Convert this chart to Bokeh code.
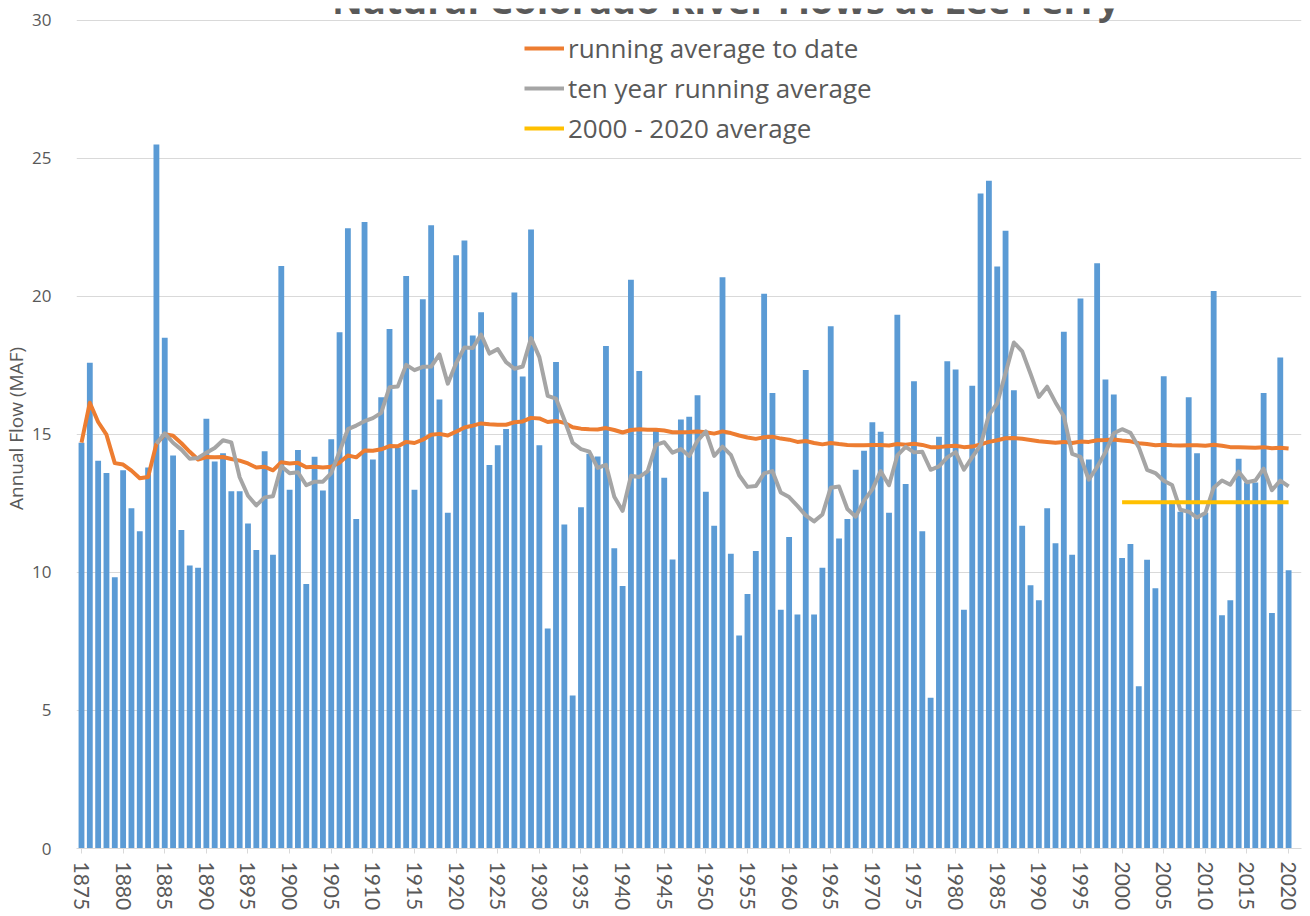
from bokeh.plotting import figure
from bokeh.models import Range1d, FixedTicker, Legend, LegendItem, Label
from bokeh.embed import file_html
from bokeh.resources import INLINE

title = "Natural Colorado River Flows at Lee Ferry"
y_label = "Annual Flow (MAF)"
series_names = ["running average to date", "ten year running average", "2000 - 2020 average"]

years = list(range(1875, 2021))
flow = [14.7, 17.6, 14.05, 13.6, 9.83, 13.7, 12.33, 11.49, 13.8, 25.5,
        18.5, 14.24, 11.54, 10.25, 10.17, 15.57, 14.02, 14.32, 12.94, 12.94,
        11.77, 10.81, 14.39, 10.64, 21.1, 13.0, 14.44, 9.58, 14.19, 12.97,
        14.83, 18.7, 22.47, 11.94, 22.7, 14.09, 16.35, 18.82, 14.53, 20.74,
        13.0, 19.9, 22.58, 16.27, 12.16, 21.49, 22.03, 18.58, 19.43, 13.89,
        14.61, 15.2, 20.14, 17.1, 22.42, 14.61, 7.97, 17.62, 11.74, 5.54,
        12.36, 14.3, 14.2, 18.2, 10.88, 9.51, 20.6, 17.3, 13.68, 15.12,
        13.43, 10.47, 15.54, 15.64, 16.42, 12.92, 11.69, 20.69, 10.68, 7.72,
        9.22, 10.78, 20.1, 16.5, 8.65, 11.28, 8.48, 17.33, 8.48, 10.17,
        18.92, 11.23, 11.94, 13.72, 14.41, 15.44, 15.1, 12.16, 19.34, 13.2,
        16.93, 11.49, 5.46, 14.92, 17.65, 17.35, 8.65, 16.76, 23.73, 24.19,
        21.08, 22.38, 16.6, 11.69, 9.54, 8.99, 12.33, 11.06, 18.72, 10.64,
        19.92, 14.09, 21.2, 16.99, 16.45, 10.52, 11.03, 5.88, 10.46, 9.43,
        17.11, 12.6, 12.2, 16.35, 14.32, 12.16, 20.2, 8.45, 8.99, 14.12,
        13.26, 13.26, 16.5, 8.53, 17.79, 10.08]

# running average to date (1875-2020)
run_avg = [14.70, 16.15, 15.45, 14.99, 13.96, 13.91, 13.69, 13.41, 13.46, 14.66,
           15.01, 14.95, 14.68, 14.37, 14.09, 14.18, 14.17, 14.18, 14.11, 14.05,
           13.95, 13.80, 13.83, 13.70, 13.99, 13.95, 13.97, 13.81, 13.83, 13.80,
           13.83, 13.98, 14.24, 14.17, 14.42, 14.41, 14.46, 14.58, 14.57, 14.73,
           14.69, 14.81, 14.99, 15.02, 14.96, 15.10, 15.25, 15.32, 15.40, 15.37,
           15.35, 15.35, 15.44, 15.47, 15.60, 15.58, 15.45, 15.49, 15.42, 15.26,
           15.21, 15.19, 15.18, 15.23, 15.16, 15.07, 15.16, 15.19, 15.17, 15.17,
           15.14, 15.08, 15.08, 15.09, 15.11, 15.08, 15.03, 15.11, 15.05, 14.96,
           14.89, 14.84, 14.90, 14.92, 14.85, 14.81, 14.73, 14.76, 14.69, 14.64,
           14.69, 14.65, 14.62, 14.61, 14.61, 14.62, 14.62, 14.60, 14.65, 14.63,
           14.66, 14.62, 14.54, 14.54, 14.57, 14.59, 14.54, 14.56, 14.64, 14.73,
           14.79, 14.86, 14.87, 14.84, 14.80, 14.75, 14.73, 14.70, 14.73, 14.69,
           14.74, 14.73, 14.79, 14.80, 14.82, 14.78, 14.75, 14.68, 14.65, 14.61,
           14.63, 14.61, 14.60, 14.61, 14.61, 14.59, 14.63, 14.59, 14.54, 14.54,
           14.53, 14.52, 14.54, 14.50, 14.52, 14.49]

# ten year running average (1884-2020)
ten_years = list(range(1884, 2021))
ten_avg = [14.66, 15.04, 14.70, 14.45, 14.12, 14.15, 14.34, 14.51, 14.79, 14.71,
           13.45, 12.78, 12.43, 12.72, 12.76, 13.85, 13.59, 13.63, 13.16, 13.29,
           13.29, 13.60, 14.38, 15.19, 15.32, 15.48, 15.59, 15.78, 16.71, 16.74,
           17.52, 17.33, 17.45, 17.46, 17.90, 16.84, 17.58, 18.15, 18.13, 18.62,
           17.93, 18.09, 17.62, 17.38, 17.46, 18.49, 17.80, 16.40, 16.30, 15.53,
           14.70, 14.47, 14.38, 13.79, 13.90, 12.74, 12.23, 13.50, 13.46, 13.66,
           14.62, 14.72, 14.34, 14.47, 14.22, 14.77, 15.11, 14.22, 14.56, 14.26,
           13.52, 13.10, 13.13, 13.59, 13.67, 12.90, 12.73, 12.41, 12.07, 11.85,
           12.10, 13.07, 13.11, 12.30, 12.02, 12.60, 13.01, 13.67, 13.16, 14.24,
           14.55, 14.35, 14.37, 13.72, 13.84, 14.17, 14.36, 13.72, 14.18, 14.61,
           15.71, 16.13, 17.22, 18.33, 18.01, 17.20, 16.36, 16.73, 16.16, 15.66,
           14.30, 14.19, 13.36, 13.82, 14.35, 15.04, 15.19, 15.06, 14.54, 13.72,
           13.60, 13.32, 13.17, 12.27, 12.20, 11.99, 12.15, 13.07, 13.33, 13.18,
           13.65, 13.27, 13.33, 13.76, 12.98, 13.33, 13.12]

# 2000 - 2020 average
recent_years = [2000, 2020]
recent_avg = [12.54, 12.54]

x_ticks = list(range(1875, 2021, 5))
y_ticks = [0, 5, 10, 15, 20, 25, 30]

TXT = "#595959"
FONT = "Open Sans"

p = figure(frame_width=1225, frame_height=840, output_backend="svg",
           toolbar_location=None, x_range=Range1d(1874.40, 2021.55),
           y_range=Range1d(0, 30.43), min_border_left=67, min_border_right=2,
           min_border_top=8, min_border_bottom=62)
p.outline_line_color = None
p.background_fill_color = "white"
p.border_fill_color = "white"

p.vbar(x=years, top=flow, width=0.7, fill_color="#5B9BD5", line_color=None)
r1 = p.line(years, run_avg, line_color="#ED7D31", line_width=4, line_join="round")
r2 = p.line(ten_years, ten_avg, line_color="#A5A5A5", line_width=4, line_join="round")
r3 = p.line(recent_years, recent_avg, line_color="#FFC000", line_width=4)

# axes
p.xaxis.ticker = FixedTicker(ticks=x_ticks)
p.xaxis.major_label_orientation = "vertical"
p.xaxis.major_label_text_font = "Lato"
p.xaxis.major_label_text_font_size = "21px"
p.xaxis.major_label_text_color = TXT
p.xaxis.axis_line_color = "#D9D9D9"
p.xaxis.major_tick_line_color = "#D9D9D9"
p.xaxis.major_tick_in = 0
p.xaxis.major_tick_out = 5
p.xaxis.minor_tick_line_color = None
p.xaxis.major_label_standoff = 8

p.yaxis.ticker = FixedTicker(ticks=y_ticks)
p.yaxis.axis_line_color = None
p.yaxis.major_tick_line_color = None
p.yaxis.minor_tick_line_color = None
p.yaxis.major_label_text_font = FONT
p.yaxis.major_label_text_font_size = "17px"
p.yaxis.major_label_text_color = TXT
p.yaxis.major_label_standoff = 19
p.yaxis.axis_label = y_label
p.yaxis.axis_label_text_font = FONT
p.yaxis.axis_label_text_font_size = "19px"
p.yaxis.axis_label_text_font_style = "normal"
p.yaxis.axis_label_text_color = TXT
p.yaxis.axis_label_standoff = 0

p.xgrid.grid_line_color = None
p.ygrid.ticker = FixedTicker(ticks=y_ticks)
p.ygrid.grid_line_color = "#D9D9D9"
p.ygrid.grid_line_width = 1

# title, partly cut off at the top as in the original
p.add_layout(Label(x=1952.4, y=30.77, text=title, text_align="center",
                   text_baseline="alphabetic", text_font=FONT,
                   text_font_size="38px", text_font_style="bold", text_color=TXT))

legend = Legend(items=[LegendItem(label=series_names[0], renderers=[r1]),
                       LegendItem(label=series_names[1], renderers=[r2]),
                       LegendItem(label=series_names[2], renderers=[r3])],
                location=(448, 702), orientation="vertical")
legend.label_text_font = FONT
legend.label_text_font_size = "26px"
legend.label_text_color = TXT
legend.glyph_width = 40
legend.label_standoff = 4
legend.spacing = 4
legend.padding = 0
legend.margin = 0
legend.border_line_color = None
legend.background_fill_alpha = 0
p.add_layout(legend, "center")

open("out.html", "w").write(file_html(p, INLINE))
